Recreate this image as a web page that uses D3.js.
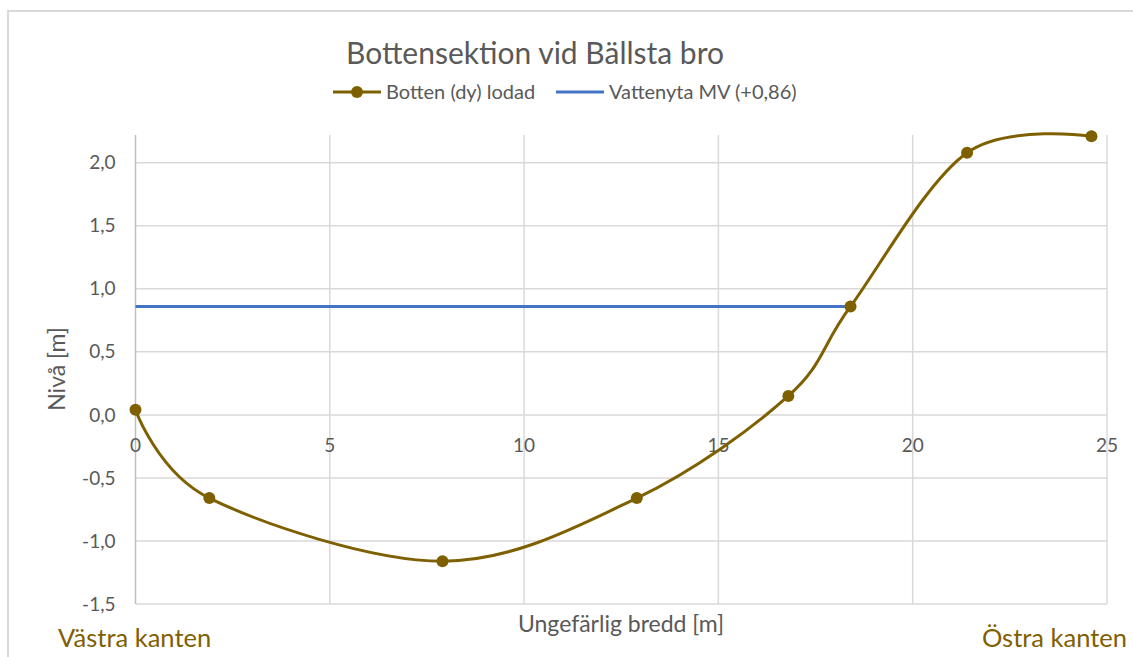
<!DOCTYPE html>
<html>
<head>
<meta charset="utf-8">
<script src="https://cdn.jsdelivr.net/npm/d3@7"></script>
<style>
  body { margin: 0; background: #fff; }
  text { font-family: Lato, "Open Sans", sans-serif; }
</style>
</head>
<body>
<div class="chart"></div>
<script>
// data
var bredd = [0, 1.9, 7.9, 12.9, 16.8, 18.4, 21.4, 24.6];
var botten = [0.04, -0.66, -1.16, -0.66, 0.15, 0.86, 2.08, 2.21];
var vattenX = [0, 18.4];
var vattenY = [0.86, 0.86];
var xTicks = [0, 5, 10, 15, 20, 25];
var yTicks = [-1.5, -1.0, -0.5, 0.0, 0.5, 1.0, 1.5, 2.0];
var seriesNames = ["Botten (dy) lodad", "Vattenyta MV (+0,86)"];

var svgWidth = 1133;
var svgHeight = 657;

var margin = { top: 135, right: 26, bottom: 53, left: 135.5 };
var width = svgWidth - margin.left - margin.right;
var height = svgHeight - margin.top - margin.bottom;

var brown = "#7f6000";
var blue = "#4472c4";
var grey = "#595959";

var svg = d3.select(".chart")
  .append("svg")
  .attr("width", svgWidth)
  .attr("height", svgHeight);

// outer chart border (only left/top visible)
svg.append("rect")
  .attr("x", 8)
  .attr("y", 11)
  .attr("width", 1200)
  .attr("height", 700)
  .attr("fill", "none")
  .attr("stroke", "#d9d9d9")
  .attr("stroke-width", 2);

var chartGroup = svg.append("g")
  .attr("transform", `translate(${margin.left}, ${margin.top})`);

var xScale = d3.scaleLinear().domain([0, 25]).range([0, width]);
var yScale = d3.scaleLinear().domain([-1.5, 2.22]).range([height, 0]);

// gridlines
chartGroup.append("g")
  .selectAll("line")
  .data(yTicks)
  .enter()
  .append("line")
  .attr("x1", 0)
  .attr("x2", width)
  .attr("y1", d => yScale(d))
  .attr("y2", d => yScale(d))
  .attr("stroke", "#d9d9d9")
  .attr("stroke-width", 1.5);

chartGroup.append("g")
  .selectAll("line")
  .data(xTicks.slice(1))
  .enter()
  .append("line")
  .attr("x1", d => xScale(d))
  .attr("x2", d => xScale(d))
  .attr("y1", 0)
  .attr("y2", height)
  .attr("stroke", "#d9d9d9")
  .attr("stroke-width", 1.5);

// y axis line
chartGroup.append("line")
  .attr("x1", xScale(0))
  .attr("x2", xScale(0))
  .attr("y1", 0)
  .attr("y2", height)
  .attr("stroke", "#bfbfbf")
  .attr("stroke-width", 1.5);

// y tick labels
var fmt = d => d3.format(".1f")(d).replace(".", ",").replace("−", "-");
chartGroup.append("g")
  .selectAll("text")
  .data(yTicks)
  .enter()
  .append("text")
  .attr("x", -20)
  .attr("y", d => yScale(d))
  .attr("dy", "0.35em")
  .attr("text-anchor", "end")
  .attr("fill", grey)
  .style("font-size", "19px")
  .text(fmt);

// x tick labels sit on the zero line
chartGroup.append("g")
  .selectAll("text")
  .data(xTicks)
  .enter()
  .append("text")
  .attr("x", d => xScale(d))
  .attr("y", yScale(0) + 37)
  .attr("text-anchor", "middle")
  .attr("fill", grey)
  .style("font-size", "19px")
  .text(d => d);

// water surface
var line = d3.line()
  .x(d => xScale(d[0]))
  .y(d => yScale(d[1]));

chartGroup.append("path")
  .datum(d3.zip(vattenX, vattenY))
  .attr("d", line)
  .attr("fill", "none")
  .attr("stroke", blue)
  .attr("stroke-width", 3);

// bottom profile, smoothed like Excel
var smooth = d3.line()
  .x(d => xScale(d[0]))
  .y(d => yScale(d[1]))
  .curve(d3.curveCardinal.tension(0));

var bottenData = d3.zip(bredd, botten);

chartGroup.append("path")
  .datum(bottenData)
  .attr("d", smooth)
  .attr("fill", "none")
  .attr("stroke", brown)
  .attr("stroke-width", 3);

chartGroup.append("g")
  .selectAll("circle")
  .data(bottenData)
  .enter()
  .append("circle")
  .attr("cx", d => xScale(d[0]))
  .attr("cy", d => yScale(d[1]))
  .attr("r", 6)
  .attr("fill", brown);

// title
svg.append("text")
  .attr("x", 535)
  .attr("y", 64)
  .attr("text-anchor", "middle")
  .attr("fill", grey)
  .style("font-size", "30px")
  .text("Bottensektion vid Bällsta bro");

// legend
var legend = svg.append("g");
legend.append("line")
  .attr("x1", 333).attr("x2", 381)
  .attr("y1", 92).attr("y2", 92)
  .attr("stroke", brown).attr("stroke-width", 3);
legend.append("circle")
  .attr("cx", 357).attr("cy", 92).attr("r", 6)
  .attr("fill", brown);
legend.append("text")
  .attr("x", 386).attr("y", 92).attr("dy", "0.35em")
  .attr("fill", grey).style("font-size", "20px")
  .text(seriesNames[0]);
legend.append("line")
  .attr("x1", 556).attr("x2", 604)
  .attr("y1", 92).attr("y2", 92)
  .attr("stroke", blue).attr("stroke-width", 3);
legend.append("text")
  .attr("x", 609).attr("y", 92).attr("dy", "0.35em")
  .attr("fill", grey).style("font-size", "20px")
  .text(seriesNames[1]);

// axis titles
svg.append("text")
  .attr("transform", "rotate(-90)")
  .attr("x", -369)
  .attr("y", 65)
  .attr("text-anchor", "middle")
  .attr("fill", grey)
  .style("font-size", "23px")
  .text("Nivå [m]");

svg.append("text")
  .attr("x", 621)
  .attr("y", 632)
  .attr("text-anchor", "middle")
  .attr("fill", grey)
  .style("font-size", "23px")
  .text("Ungefärlig bredd [m]");

// bank labels
svg.append("text")
  .attr("x", 58)
  .attr("y", 647)
  .attr("fill", brown)
  .style("font-size", "25.5px")
  .text("Västra kanten");

svg.append("text")
  .attr("x", 1127)
  .attr("y", 647)
  .attr("text-anchor", "end")
  .attr("fill", brown)
  .style("font-size", "25.5px")
  .text("Östra kanten");
</script>
</body>
</html>
